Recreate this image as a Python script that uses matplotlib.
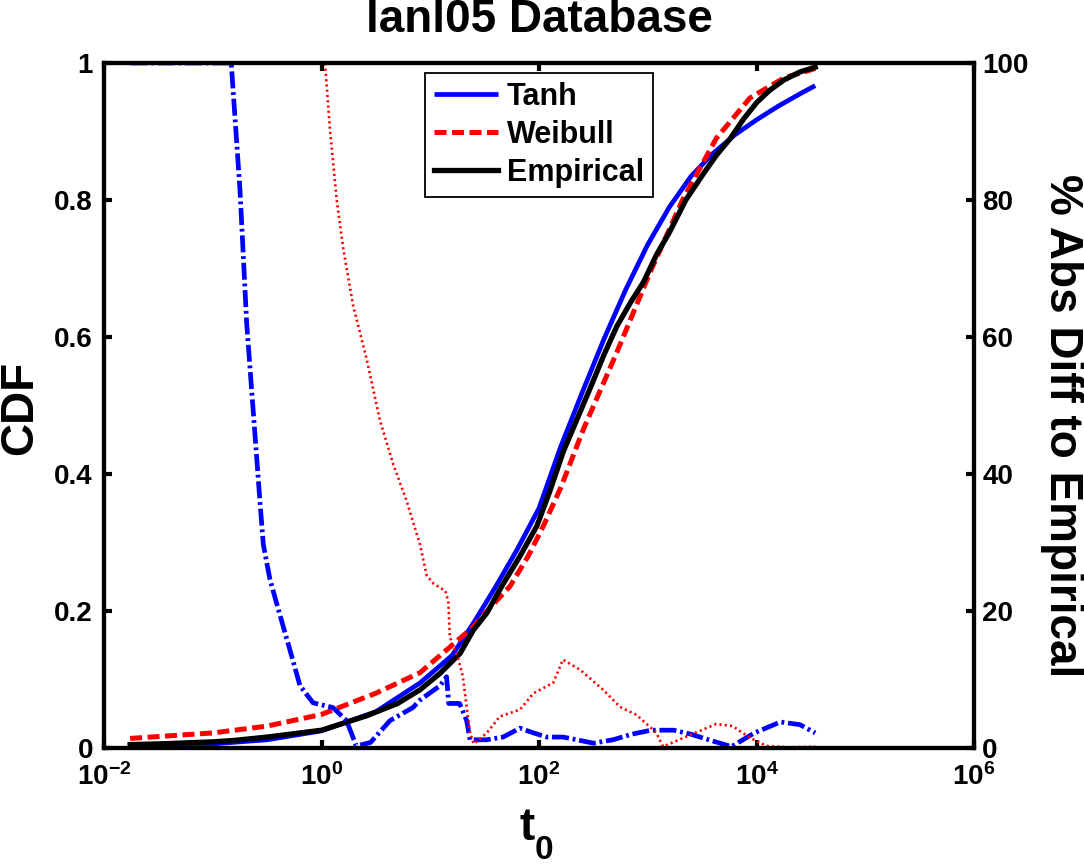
import matplotlib
matplotlib.use("Agg")
import matplotlib.pyplot as plt
from matplotlib.ticker import NullLocator, FixedLocator, FixedFormatter
import numpy as np

plt.rcParams['font.family'] = ['Liberation Sans', 'DejaVu Sans']
plt.rcParams['font.weight'] = 'bold'
plt.rcParams['mathtext.fontset'] = 'custom'
plt.rcParams['mathtext.rm'] = 'Liberation Sans:bold'
plt.rcParams['mathtext.it'] = 'Liberation Sans:bold'
plt.rcParams['mathtext.bf'] = 'Liberation Sans:bold'
plt.rcParams['mathtext.sf'] = 'Liberation Sans:bold'

# ---------------- data (log10 of t0) ----------------
emp_logt = [-1.76, -1.5, -1.0, -0.81, -0.5, 0.0, 0.415, 0.7, 0.906, 1.09, 1.274,
            1.396, 1.52, 1.657, 1.825, 1.98, 2.1, 2.224, 2.35, 2.47, 2.6, 2.714,
            2.84, 2.96, 3.08, 3.2, 3.35, 3.51, 3.63, 3.76, 3.88, 4.0, 4.12, 4.25,
            4.4, 4.54]
emp_cdf = [0.005, 0.006, 0.009, 0.011, 0.016, 0.026, 0.047, 0.065, 0.085, 0.109, 0.138,
           0.172, 0.197, 0.236, 0.28, 0.324, 0.375, 0.433, 0.48, 0.525, 0.575, 0.615,
           0.65, 0.68, 0.72, 0.753, 0.80, 0.838, 0.865, 0.89, 0.918, 0.942, 0.96, 0.975,
           0.987, 0.994]

tanh_logt = [-1.76, -1.0, -0.5, 0.0, 0.5, 0.906, 1.2, 1.4, 1.6, 1.8, 2.0, 2.2, 2.4,
             2.6, 2.8, 3.0, 3.2, 3.4, 3.6, 3.8, 4.0, 4.2, 4.4, 4.54]
tanh_cdf = [0.002, 0.006, 0.012, 0.025, 0.053, 0.095, 0.135, 0.183, 0.235, 0.29, 0.35,
            0.44, 0.52, 0.598, 0.67, 0.735, 0.79, 0.835, 0.868, 0.895, 0.917, 0.937,
            0.955, 0.967]

weib_logt = [-1.76, -1.0, -0.5, 0.0, 0.5, 0.906, 1.2, 1.396, 1.55, 1.733, 1.9, 2.04,
             2.2, 2.41, 2.714, 3.02, 3.32, 3.63, 3.94, 4.25, 4.54]
weib_cdf = [0.014, 0.022, 0.032, 0.049, 0.08, 0.11, 0.15, 0.177, 0.205, 0.236, 0.28,
            0.324, 0.38, 0.466, 0.577, 0.694, 0.80, 0.89, 0.949, 0.978, 0.992]

tanh_diff_logt = [-1.76, -0.83, -0.749, -0.688, -0.627, -0.566, -0.535, -0.474, -0.382,
                  -0.29, -0.198, -0.078, 0.106, 0.23, 0.32, 0.45, 0.63, 0.84, 0.906,
                  1.09, 1.15, 1.17, 1.27, 1.335, 1.366, 1.52, 1.67, 1.825, 1.95, 2.07,
                  2.22, 2.35, 2.5, 2.68, 2.85, 3.03, 3.24, 3.4, 3.56, 3.77, 3.98, 4.22,
                  4.40, 4.54]
tanh_diff = [100, 100, 81.3, 62, 49, 36, 29.7, 24.6, 19.4, 14.3, 9.1, 6.6, 5.9, 4.0,
             0.3, 0.8, 4.0, 5.9, 7.0, 9.1, 10.4, 6.5, 6.5, 4.0, 1.2, 1.2, 1.6, 2.9, 2.2,
             1.6, 1.6, 1.2, 0.7, 1.2, 2.0, 2.6, 2.6, 2.0, 1.2, 0.2, 2.2, 3.8, 3.4, 2.2]

weib_diff_logt = [-1.76, 0.032, 0.078, 0.14, 0.2, 0.292, 0.415, 0.538, 0.66, 0.78,
                  0.906, 0.967, 1.03, 1.14, 1.166, 1.18, 1.21, 1.26, 1.30, 1.335, 1.366,
                  1.40, 1.52, 1.64, 1.825, 1.95, 2.13, 2.22, 2.38, 2.59, 2.745, 2.90,
                  3.08, 3.14, 3.39, 3.63, 3.78, 3.94, 4.09, 4.3, 4.54]
weib_diff = [100, 100, 90.3, 80, 72.9, 64.5, 56.8, 47.8, 41.4, 36.2, 29.7, 25.2, 24,
             22.9, 21.4, 16.3, 14.8, 12.9, 10.4, 6.0, 2.2, 0.6, 2.2, 4.6, 5.6, 8.0, 9.5,
             12.9, 11.4, 8.5, 6.0, 4.8, 2.2, 0.2, 1.9, 3.5, 3.2, 1.5, 0.3, 0.1, 0.2]

x_ticks = [1e-2, 1e0, 1e2, 1e4, 1e6]
x_ticklabels = [r'$10^{-2}$', r'$10^{0}$', r'$10^{2}$', r'$10^{4}$', r'$10^{6}$']
y_ticks = [0, 0.2, 0.4, 0.6, 0.8, 1.0]
y_ticklabels = ['0', '0.2', '0.4', '0.6', '0.8', '1']
y2_ticks = [0, 20, 40, 60, 80, 100]
y2_ticklabels = ['0', '20', '40', '60', '80', '100']

title = 'lanl05 Database'
legend_labels = ['Tanh', 'Weibull', 'Empirical']

# ---------------- figure ----------------
W, H = 1084, 865
fig = plt.figure(figsize=(W / 100, H / 100), dpi=100)
fig.patch.set_facecolor('white')
ax = fig.add_axes([104 / W, 1 - 748 / H, 870 / W, 685 / H])
ax2 = ax.twinx()

def tx(v):
    return np.power(10.0, np.asarray(v, dtype=float))

l_tanh, = ax.plot(tx(tanh_logt), tanh_cdf, color='#0000ff', lw=3.4, solid_capstyle='butt')
l_weib, = ax.plot(tx(weib_logt), weib_cdf, color='#ff0000', lw=3.6, dashes=(2.4, 1.1))
l_emp, = ax.plot(tx(emp_logt), emp_cdf, color='black', lw=3.8)

ax2.plot(tx(tanh_diff_logt), tanh_diff, color='#0000ff', lw=3.4, dashes=(3.6, 0.8, 0.6, 0.8))
ax2.plot(tx(weib_diff_logt), weib_diff, color='#ff0000', lw=1.9, dashes=(0.8, 1.2))

ax.set_xscale('log')
ax.set_xlim(1e-2, 1e6)
ax.set_ylim(0, 1)
ax2.set_ylim(0, 100)

ax.xaxis.set_major_locator(FixedLocator(x_ticks))
ax.xaxis.set_major_formatter(FixedFormatter(x_ticklabels))
ax.xaxis.set_minor_locator(NullLocator())
ax.set_yticks(y_ticks)
ax.set_yticklabels(y_ticklabels)
ax2.set_yticks(y2_ticks)
ax2.set_yticklabels(y2_ticklabels)

for a in (ax, ax2):
    for s in a.spines.values():
        s.set_linewidth(3)

ax.tick_params(axis='x', which='major', direction='in', length=6, width=3,
               top=True, bottom=True, labelsize=20, pad=11)
ax.tick_params(axis='y', which='major', direction='in', length=6, width=3,
               left=True, right=False, labelsize=20, pad=8)
ax2.tick_params(axis='y', which='major', direction='in', length=6, width=3,
                labelsize=20, pad=6)
for lab in ax.get_xticklabels() + ax.get_yticklabels() + ax2.get_yticklabels():
    lab.set_fontweight('bold')

ax.set_title(title, fontsize=33, fontweight='bold', pad=22)

fig.text(20 / W, 1 - 407.5 / H, 'CDF', rotation=90, ha='center', va='center',
         fontsize=33, fontweight='bold')
fig.text(1062 / W, 1 - 426 / H, '% Abs Diff to Empirical', rotation=-90, ha='center',
         va='center', fontsize=33, fontweight='bold')
fig.text(519 / W, 1 - 840 / H, 't', ha='left', va='baseline', fontsize=33, fontweight='bold')
fig.text(535 / W, 1 - 859 / H, '0', ha='left', va='baseline', fontsize=24, fontweight='bold')

leg = ax2.legend([l_tanh, l_weib, l_emp], legend_labels, loc='upper center',
                 bbox_to_anchor=(0.5, 1.0), borderaxespad=0.33, fancybox=False,
                 framealpha=1, edgecolor='black', handlelength=2.1, handletextpad=0.3,
                 labelspacing=0.27, borderpad=0.28,
                 prop={'family': 'Liberation Sans', 'weight': 'bold', 'size': 22})
leg.get_frame().set_linewidth(1.3)

fig.savefig('out.png', dpi=100, facecolor='white')
